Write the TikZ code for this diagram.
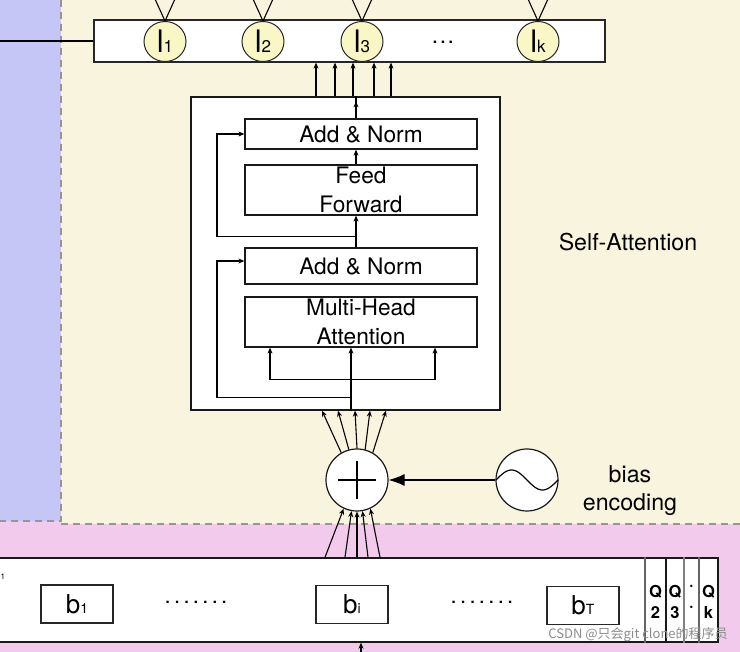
\documentclass[tikz,border=0pt]{standalone}
\usepackage{fontspec}
\setmainfont{TeX Gyre Heros}
\newfontfamily\cjk{Noto Sans CJK SC}
\usetikzlibrary{arrows.meta,calc,shapes.geometric}
\definecolor{bluebg}{RGB}{198,198,246}
\definecolor{creambg}{RGB}{249,244,222}
\definecolor{pinkbg}{RGB}{242,202,236}
\definecolor{ellfill}{RGB}{250,247,198}
\definecolor{dashgray}{RGB}{150,150,150}
\newcommand{\smallsub}[1]{{\fontsize{17}{17}\selectfont #1}}
\newcommand{\bsub}[1]{{\fontsize{14}{14}\selectfont #1}}
\begin{document}
\begin{tikzpicture}[x=1pt,y=-1pt,
  box/.style={draw=black!90, line width=1.3pt, fill=white, inner sep=0pt, align=center, font=\fontsize{22.7}{29}\selectfont},
  arr/.style={line width=1.1pt, -{Stealth[length=6pt,width=5pt]}},
  ln/.style={line width=1.1pt},
  dsh/.style={dashgray, line width=1.3pt, dash pattern=on 7pt off 5pt},
  ell/.style={ellipse, draw=black!85, line width=1pt, fill=ellfill, minimum width=42pt, minimum height=40pt, inner sep=0pt, font=\fontsize{31}{31}\selectfont},
  bbox/.style={draw=black!85, line width=1.3pt, fill=white, minimum width=72pt, minimum height=38pt, inner sep=0pt, font=\fontsize{26}{26}\selectfont},
  lbl/.style={font=\fontsize{23.2}{28}\selectfont, align=center},
  qlbl/.style={font=\bfseries\fontsize{16.5}{21}\selectfont, align=center, inner sep=0pt},
  circ/.style={circle, draw=black!90, line width=1.2pt, fill=white, minimum size=62pt, inner sep=0pt},
  ]
\clip (0,0) rectangle (740,652);
% backgrounds
\fill[pinkbg] (0,0) rectangle (740,652);
\fill[creambg] (61,0) rectangle (740,524);
\fill[bluebg] (0,0) rectangle (61,521);
\draw[dsh] (61,0) -- (61,521) -- (0,521);
\draw[dsh] (61,524) -- (740,524);

% top bar
\node[draw=black!85, line width=1.3pt, fill=white, minimum width=511pt, minimum height=42pt, inner sep=0pt] (bar) at (349.5,41) {};
\coordinate (lft) at (0,41);
\draw[ln] (bar.west) -- (lft);
\node[ell] (e1) at (165,41.5) {l\smallsub{1}};
\node[ell] (e2) at (263,41.5) {l\smallsub{2}};
\node[ell] (e3) at (362,41.5) {l\smallsub{3}};
\node[ell] (ek) at (538,41.5) {l\smallsub{k}};
\node[font=\fontsize{23}{23}\selectfont, inner sep=0pt] (tdots) at (443,42) {.\kern1.5pt.\kern1.5pt.};
\foreach \e in {e1,e2,e3,ek}{
  \draw[ln] (\e.north) -- ++(-10,-22);
  \draw[ln] (\e.north) -- ++(10,-22);
}

% texts
\node[lbl] (sa) at (628,242) {Self-Attention};
\node[lbl] (be) at (630,491) {bias\\encoding};

% encoder block
\node[draw=black!90, line width=1.3pt, fill=white, minimum width=309pt, minimum height=313pt, inner sep=0pt] (enc) at (345.5,253.5) {};
\node[box, minimum width=232pt, minimum height=30pt] (an1) at (361,134) {Add \& Norm};
\node[box, minimum width=232pt, minimum height=50pt] (ff) at (361,190) {Feed\\Forward};
\node[box, minimum width=232pt, minimum height=36pt] (an2) at (361,266) {Add \& Norm};
\node[box, minimum width=232pt, minimum height=50pt] (mha) at (361,322) {Multi-Head\\Attention};

\coordinate (m) at (356,0);
\coordinate (mi) at (351,0);
\coordinate (L) at (217,0);

\draw[ln] (an1.north -| m) -- (enc.north -| m);
\draw[arr] (an1.north -| m) -- ($(enc.north -| m)+(0,5)$);
\foreach \x in {316,335,353,374,391}
  \draw[arr] (enc.north -| \x,0) -- (bar.south -| \x,0);
\draw[arr] (ff.north -| m) -- (an1.south -| m);
\draw[arr] (an2.north -| m) -- (ff.south -| m);
\draw[arr] ($(an2.north -| m)+(0,-11)$) -| (L |- an1.west) -- (an1.west);
\draw[arr] ($(enc.south -| mi)+(0,-13)$) -| ($(L |- an2.west)+(0,-5)$) -- ($(an2.west)+(0,-5)$);
\draw[arr] (enc.south -| mi) -- (mha.south -| mi);
\draw[arr] ($(enc.south -| mi)+(0,-31)$) -| (mha.south -| 270,0);
\draw[arr] ($(enc.south -| mi)+(0,-31)$) -| (mha.south -| 435,0);

% plus and oscillator
\node[circ] (plus) at (357,480) {};
\draw[line width=1.3pt] ($(plus.center)+(-19,0)$) -- ($(plus.center)+(19,0)$);
\draw[line width=1.3pt] ($(plus.center)+(0,-19)$) -- ($(plus.center)+(0,19)$);
\node[circ] (osc) at (527,480) {};
\draw[line width=1.2pt] plot[smooth, domain=-31:31, samples=41] ({527+\x},{480+10*sin(\x/31*180)});
\draw[line width=1.1pt, -{Latex[length=16pt,width=12pt]}] (osc.west) -- (plus.east);
\foreach \a/\x in {120/322,105/338,90/355,75/370,60/386}
  \draw[arr] (plus.\a) -- (enc.south -| \x,0);

% bottom bar
\node[draw=black!90, line width=1.4pt, fill=white, minimum width=723pt, minimum height=84pt, inner sep=0pt] (bbar) at (356.5,600) {};
\foreach \a/\x in {245/325,260/345,270/357,280/368,295/380}
  \draw[arr] (bbar.north -| \x,0) -- (plus.\a);
\node[bbox] (b1) at (77,604) {b\bsub{1}};
\node[bbox] (bi) at (352,604.5) {b\bsub{i}};
\node[bbox] (bT) at (583,605.5) {b\bsub{T}};
\node[font=\fontsize{22}{22}\selectfont, inner sep=0pt] (d1) at (196,602) {.\kern3.3pt.\kern3.3pt.\kern3.3pt.\kern3.3pt.\kern3.3pt.\kern3.3pt.};
\node[font=\fontsize{22}{22}\selectfont, inner sep=0pt] (d2) at (482,602) {.\kern3.3pt.\kern3.3pt.\kern3.3pt.\kern3.3pt.\kern3.3pt.\kern3.3pt.};
\foreach \x/\c in {645/black!60,666/black!90,684/black!50,699/black!60}
  \draw[\c, line width=1.1pt] (bbar.north -| \x,0) -- (bbar.south -| \x,0);
\node[qlbl] (q2) at (655.5,602) {Q\\2};
\node[qlbl] (q3) at (675,602) {Q\\3};
\node[qlbl] (qd) at (691.5,598) {·\\·};
\node[qlbl] (qk) at (708.5,602) {Q\\k};
\node[font=\fontsize{8}{8}\selectfont, inner sep=0pt, anchor=west] (frag) at (0.5,577) {1};
\coordinate (bin) at (361,662);
\draw[arr] (bin) -- (bbar.south -| bin);
\node[text=black!45, font=\cjk\fontsize{13}{13}\selectfont, inner sep=0pt] (wm) at (638,635) {CSDN @只会git clone的程序员};
\end{tikzpicture}
\end{document}
